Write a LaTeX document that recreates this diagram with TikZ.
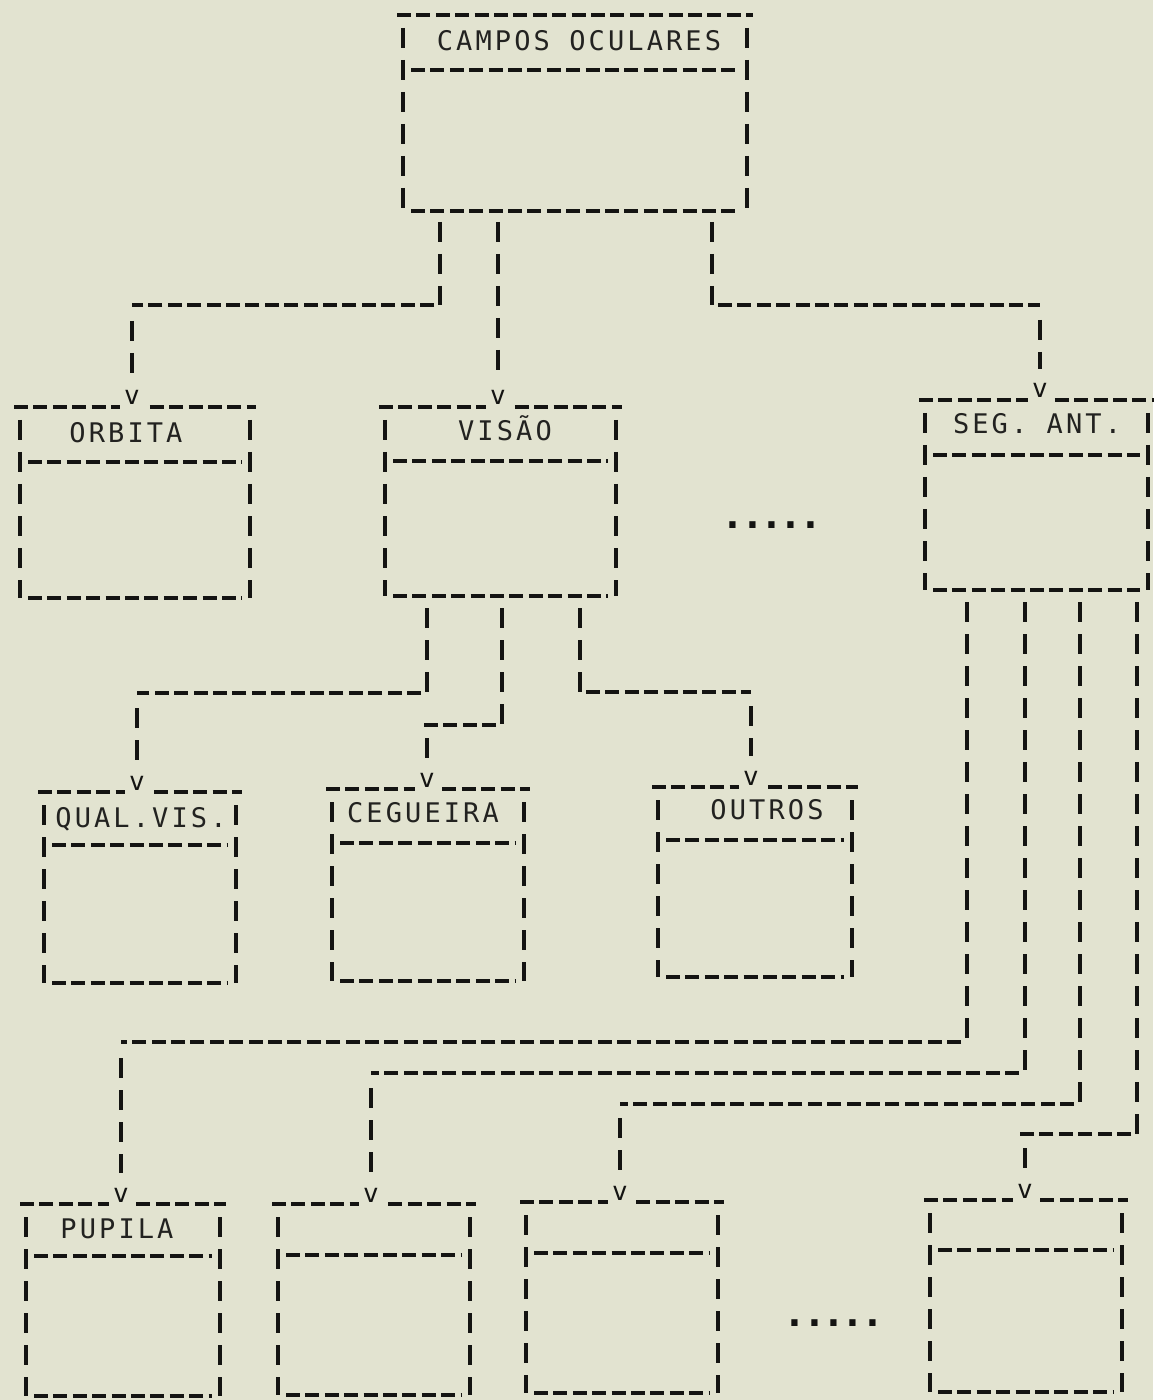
\documentclass[tikz,border=0pt]{standalone}
\usepackage{fontspec}
\newfontfamily\lpfont[LetterSpace=11.5]{DejaVu Sans Mono}
\newfontfamily\dotfont{DejaVu Sans Mono}
\usetikzlibrary{fit}
\definecolor{paper}{RGB}{226,227,208}
\definecolor{ink}{RGB}{20,20,18}
\definecolor{txt}{RGB}{34,34,32}
\newcommand\dotcell{\makebox[9.7pt][c]{.}}
\tikzset{
  hd/.style={draw=ink, line width=1.9pt, dash pattern=on 7pt off 2.7pt},
  vd/.style={draw=ink, line width=2.1pt, dash pattern=on 10pt off 6pt},
  ttl/.style={text=txt, font=\lpfont\fontsize{13.5}{15}\selectfont, inner sep=0pt, anchor=base},
  vmark/.style={text=ink, font=\lpfont\fontsize{13}{14}\selectfont, inner xsep=2pt, inner ysep=2pt, fill=paper, anchor=base},
  ell/.style={text=ink, font=\dotfont\bfseries\fontsize{19}{20}\selectfont, inner sep=0pt, anchor=base},
  boxarea/.style={inner sep=0pt}
}
% name, L, R, T, S, B
\newcommand\asciibox[6]{%
  \node[boxarea, fit={(#2,#4) (#3,#6)}] (#1) {};
  \draw[hd] ({#2-6},#4) -- ({#3+6},#4);
  \draw[vd] (#2,{#4+13}) -- (#2,#6);
  \draw[vd] (#3,{#4+13}) -- (#3,#6);
  \draw[hd] ({#2+8},#5) -- ({#3-8},#5);
  \draw[hd] ({#2+8},#6) -- ({#3-8},#6);
}
\begin{document}
\begin{tikzpicture}[x=0.5pt,y=-0.5pt]
\fill[paper] (0,0) rectangle (1153,1400);
\useasboundingbox (0,0) rectangle (1153,1400);

% ---------- boxes ----------
\asciibox{campos}{403}{747}{15}{70}{211}
\asciibox{orbita}{20}{250}{407}{462}{598}
\asciibox{visao}{385}{616}{407}{461}{596}
\asciibox{seg}{925}{1148}{400}{455}{590}
\asciibox{qual}{44}{236}{792}{845}{983}
\asciibox{ceg}{332}{524}{789}{843}{981}
\asciibox{outros}{658}{852}{787}{840}{977}
\asciibox{pupila}{26}{220}{1204}{1256}{1396}
\asciibox{bxb}{278}{470}{1204}{1255}{1395}
\asciibox{bxc}{526}{718}{1202}{1253}{1393}
\asciibox{bxd}{930}{1122}{1200}{1250}{1392}

% ---------- titles ----------
\node[ttl] (campos-t) at (579,51) {CAMPOS OCULARES};
\node[ttl] (orbita-t) at (126,443) {ORBITA};
\node[ttl] (visao-t) at (505,441) {VISÃO};
\node[ttl] (seg-t) at (1037,434) {SEG. ANT.};
\node[ttl] (qual-t) at (141,827) {QUAL.VIS.};
\node[ttl] (ceg-t) at (423,822) {CEGUEIRA};
\node[ttl] (outros-t) at (767,819) {OUTROS};
\node[ttl] (pupila-t) at (117,1238) {PUPILA};

% ---------- arrow heads ----------
\node[vmark] (orbita-v) at (132,405) {v};
\node[vmark] (visao-v) at (498,405) {v};
\node[vmark] (seg-v) at (1040,398) {v};
\node[vmark] (qual-v) at (137,790) {v};
\node[vmark] (ceg-v) at (427,787) {v};
\node[vmark] (outros-v) at (751,785) {v};
\node[vmark] (pupila-v) at (121,1202) {v};
\node[vmark] (bxb-v) at (371,1202) {v};
\node[vmark] (bxc-v) at (620,1200) {v};
\node[vmark] (bxd-v) at (1025,1198) {v};

% ---------- ellipses ----------
\node[ell] (dots1) at (772,529) {\dotcell\dotcell\dotcell\dotcell\dotcell};
\node[ell] (dots2) at (834,1326) {\dotcell\dotcell\dotcell\dotcell\dotcell};

% ---------- connectors: CAMPOS OCULARES ----------
\coordinate (a1) at (440,222); \coordinate (a2) at (440,305);
\draw[vd] (a1) -- (a2);
\draw[hd] ([xshift=-3pt]a2) -- (a2 -| orbita-v);
\draw[vd] ([yshift=-8pt]a2 -| orbita-v) -- ([yshift=5pt]orbita-v.north);

\coordinate (b1) at (498,222);
\draw[vd] (b1) -- ([yshift=5pt]visao-v.north);

\coordinate (c1) at (712,222); \coordinate (c2) at (712,305);
\draw[vd] (c1) -- (c2);
\draw[hd] ([xshift=3pt]c2) -- (c2 -| seg-v);
\draw[vd] ([yshift=-7.5pt]c2 -| seg-v) -- ([yshift=5pt]seg-v.north);

% ---------- connectors: VISAO ----------
\coordinate (d1) at (427,608); \coordinate (d2) at (427,693);
\draw[vd] (d1) -- (d2);
\draw[hd] ([xshift=-3pt]d2) -- (d2 -| qual-v);
\draw[vd] ([yshift=-7.5pt]d2 -| qual-v) -- ([yshift=5pt]qual-v.north);

\coordinate (e1) at (502,608); \coordinate (e2) at (502,725);
\draw[vd] (e1) -- (e2);
\draw[hd] ([xshift=-3pt]e2) -- ([xshift=-3pt]e2 -| ceg-v);
\draw[vd] ([yshift=-6.5pt]e2 -| ceg-v) -- ([yshift=5pt]ceg-v.north);

\coordinate (f1) at (580,608); \coordinate (f2) at (580,692);
\draw[vd] (f1) -- (f2);
\draw[hd] ([xshift=3pt]f2) -- (f2 -| outros-v);
\draw[vd] ([yshift=-7pt]f2 -| outros-v) -- ([yshift=5pt]outros-v.north);

% ---------- connectors: SEG. ANT. ----------
\coordinate (g1) at (967,602); \coordinate (g2) at (967,1042);
\draw[vd] (g1) -- (g2);
\draw[hd] ([xshift=-3pt]g2) -- (g2 -| pupila-v);
\draw[vd] ([yshift=-8pt]g2 -| pupila-v) -- ([yshift=5pt]pupila-v.north);

\coordinate (h1) at (1025,602); \coordinate (h2) at (1025,1073);
\draw[vd] (h1) -- (h2);
\draw[hd] ([xshift=-3pt]h2) -- (h2 -| bxb-v);
\draw[vd] ([yshift=-7.5pt]h2 -| bxb-v) -- ([yshift=5pt]bxb-v.north);

\coordinate (i1) at (1080,602); \coordinate (i2) at (1080,1104);
\draw[vd] (i1) -- (i2);
\draw[hd] ([xshift=-3pt]i2) -- (i2 -| bxc-v);
\draw[vd] ([yshift=-7pt]i2 -| bxc-v) -- ([yshift=5pt]bxc-v.north);

\coordinate (j1) at (1137,602); \coordinate (j2) at (1137,1134);
\draw[vd] (j1) -- (j2);
\draw[hd] ([xshift=-3pt]j2) -- ([xshift=-3pt]j2 -| bxd-v);
\draw[vd] ([yshift=-7pt]j2 -| bxd-v) -- ([yshift=5pt]bxd-v.north);
\end{tikzpicture}
\end{document}
